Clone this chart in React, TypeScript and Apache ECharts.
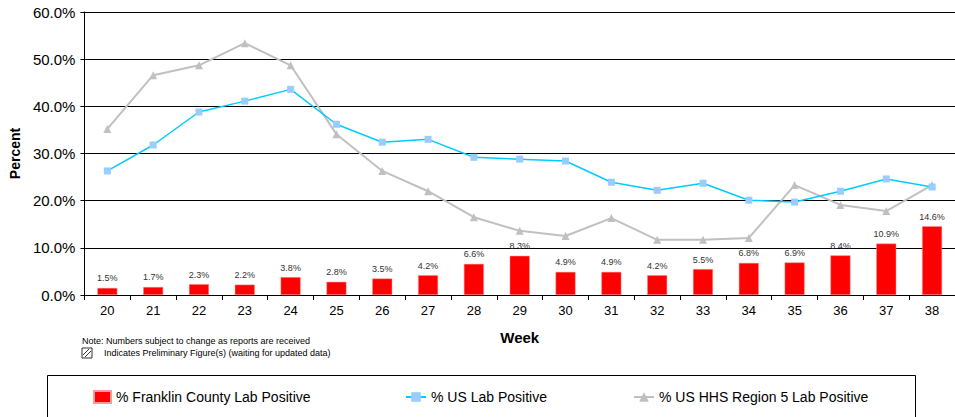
import React, { useEffect, useRef } from "react";
import * as echarts from "echarts";

const weeks = ["20","21","22","23","24","25","26","27","28","29","30","31","32","33","34","35","36","37","38"];
const franklin = [1.5, 1.7, 2.3, 2.2, 3.8, 2.8, 3.5, 4.2, 6.6, 8.3, 4.9, 4.9, 4.2, 5.5, 6.8, 6.9, 8.4, 10.9, 14.6];
const usLab = [26.3, 31.8, 38.8, 41.1, 43.6, 36.2, 32.4, 33.0, 29.2, 28.8, 28.4, 23.9, 22.2, 23.7, 20.1, 19.7, 22.0, 24.6, 22.9];
const region5 = [35.2, 46.6, 48.7, 53.4, 48.7, 34.1, 26.3, 22.0, 16.5, 13.6, 12.5, 16.3, 11.7, 11.7, 12.1, 23.3, 19.1, 17.8, 23.3];
const yTicks = { min: 0, max: 60, interval: 10 };
const seriesNames = ["% Franklin County Lab Positive", "% US Lab Positive", "% US HHS Region 5 Lab Positive"];

const FONT = "'Liberation Sans', Arial, sans-serif";

export default function App() {
  const ref = useRef<HTMLDivElement>(null);
  useEffect(() => {
    document.body.style.margin = "0";
    const chart = echarts.init(ref.current!, null, { renderer: "svg" });
    const legendText = { fontSize: 14, color: "#000", fontFamily: FONT };
    chart.setOption({
      animation: false,
      textStyle: { fontFamily: FONT },
      grid: { left: 81, top: 12, width: 883, height: 283, containLabel: false },
      legend: [
        { data: [{ name: seriesNames[0], icon: "rect" }], left: 93, top: 390, padding: 0, itemWidth: 17, itemHeight: 12, textStyle: legendText, selectedMode: false },
        { data: [seriesNames[1]], left: 405, top: 390, padding: 0, itemWidth: 20, itemHeight: 12, textStyle: legendText, selectedMode: false },
        { data: [seriesNames[2]], left: 633, top: 390, padding: 0, itemWidth: 20, itemHeight: 12, textStyle: legendText, selectedMode: false },
      ],
      xAxis: {
        type: "category",
        data: weeks,
        boundaryGap: true,
        name: "Week",
        nameLocation: "middle",
        nameGap: 35,
        nameTextStyle: { fontSize: 15, fontWeight: "bold", color: "#000", fontFamily: FONT },
        axisLine: { lineStyle: { color: "#000", width: 1 } },
        axisTick: { show: true, length: 5, lineStyle: { color: "#000" } },
        axisLabel: { fontSize: 13, color: "#000", margin: 9, fontFamily: FONT },
      },
      yAxis: {
        type: "value",
        min: yTicks.min,
        max: yTicks.max,
        interval: yTicks.interval,
        name: "Percent",
        nameLocation: "middle",
        nameGap: 60,
        nameRotate: 90,
        nameTextStyle: { fontSize: 14, fontWeight: "bold", color: "#000", fontFamily: FONT },
        axisLine: { show: true, lineStyle: { color: "#000", width: 1 } },
        axisTick: { show: true, length: 4, lineStyle: { color: "#000" } },
        axisLabel: { fontSize: 15, color: "#000", margin: 9, fontFamily: FONT, formatter: (v: number) => v.toFixed(1) + "%" },
        splitLine: { show: true, lineStyle: { color: "#000", width: 1 } },
      },
      series: [
        {
          name: seriesNames[0],
          type: "bar",
          data: franklin,
          barWidth: 20,
          itemStyle: { color: "#FF0000", borderColor: "#FF9999", borderWidth: 0.5 },
          label: { show: true, position: "top", distance: 5, fontSize: 9, color: "#333", fontFamily: FONT, formatter: (p: any) => p.value.toFixed(1) + "%" },
          z: 2,
        },
        {
          name: seriesNames[1],
          type: "line",
          data: usLab,
          symbol: "rect",
          symbolSize: 7,
          lineStyle: { color: "#00CCFF", width: 1.5 },
          itemStyle: { color: "#99CCFF" },
          z: 4,
        },
        {
          name: seriesNames[2],
          type: "line",
          data: region5,
          symbol: "triangle",
          symbolSize: 8,
          lineStyle: { color: "#C0C0C0", width: 2 },
          itemStyle: { color: "#C0C0C0" },
          z: 3,
        },
      ],
      graphic: [
        { type: "text", left: 82, top: 336, style: { text: "Note: Numbers subject to change as reports are received", fontSize: 9, fill: "#000", fontFamily: FONT } },
        { type: "rect", shape: { x: 82, y: 348, width: 10, height: 10 }, style: { fill: "#fff", stroke: "#333", lineWidth: 1 } },
        { type: "line", shape: { x1: 83, y1: 355, x2: 89, y2: 349 }, style: { stroke: "#333", lineWidth: 1 } },
        { type: "line", shape: { x1: 85, y1: 357, x2: 91, y2: 351 }, style: { stroke: "#333", lineWidth: 1 } },
        { type: "text", left: 104, top: 348, style: { text: "Indicates Preliminary Figure(s) (waiting for updated data)", fontSize: 9, fill: "#000", fontFamily: FONT } },
        { type: "rect", shape: { x: 47.5, y: 375.5, width: 868, height: 45 }, style: { fill: "none", stroke: "#000", lineWidth: 1 }, z: -1 },
      ],
    });
    return () => chart.dispose();
  }, []);
  return <div ref={ref} style={{ width: 955, height: 417 }} />;
}
